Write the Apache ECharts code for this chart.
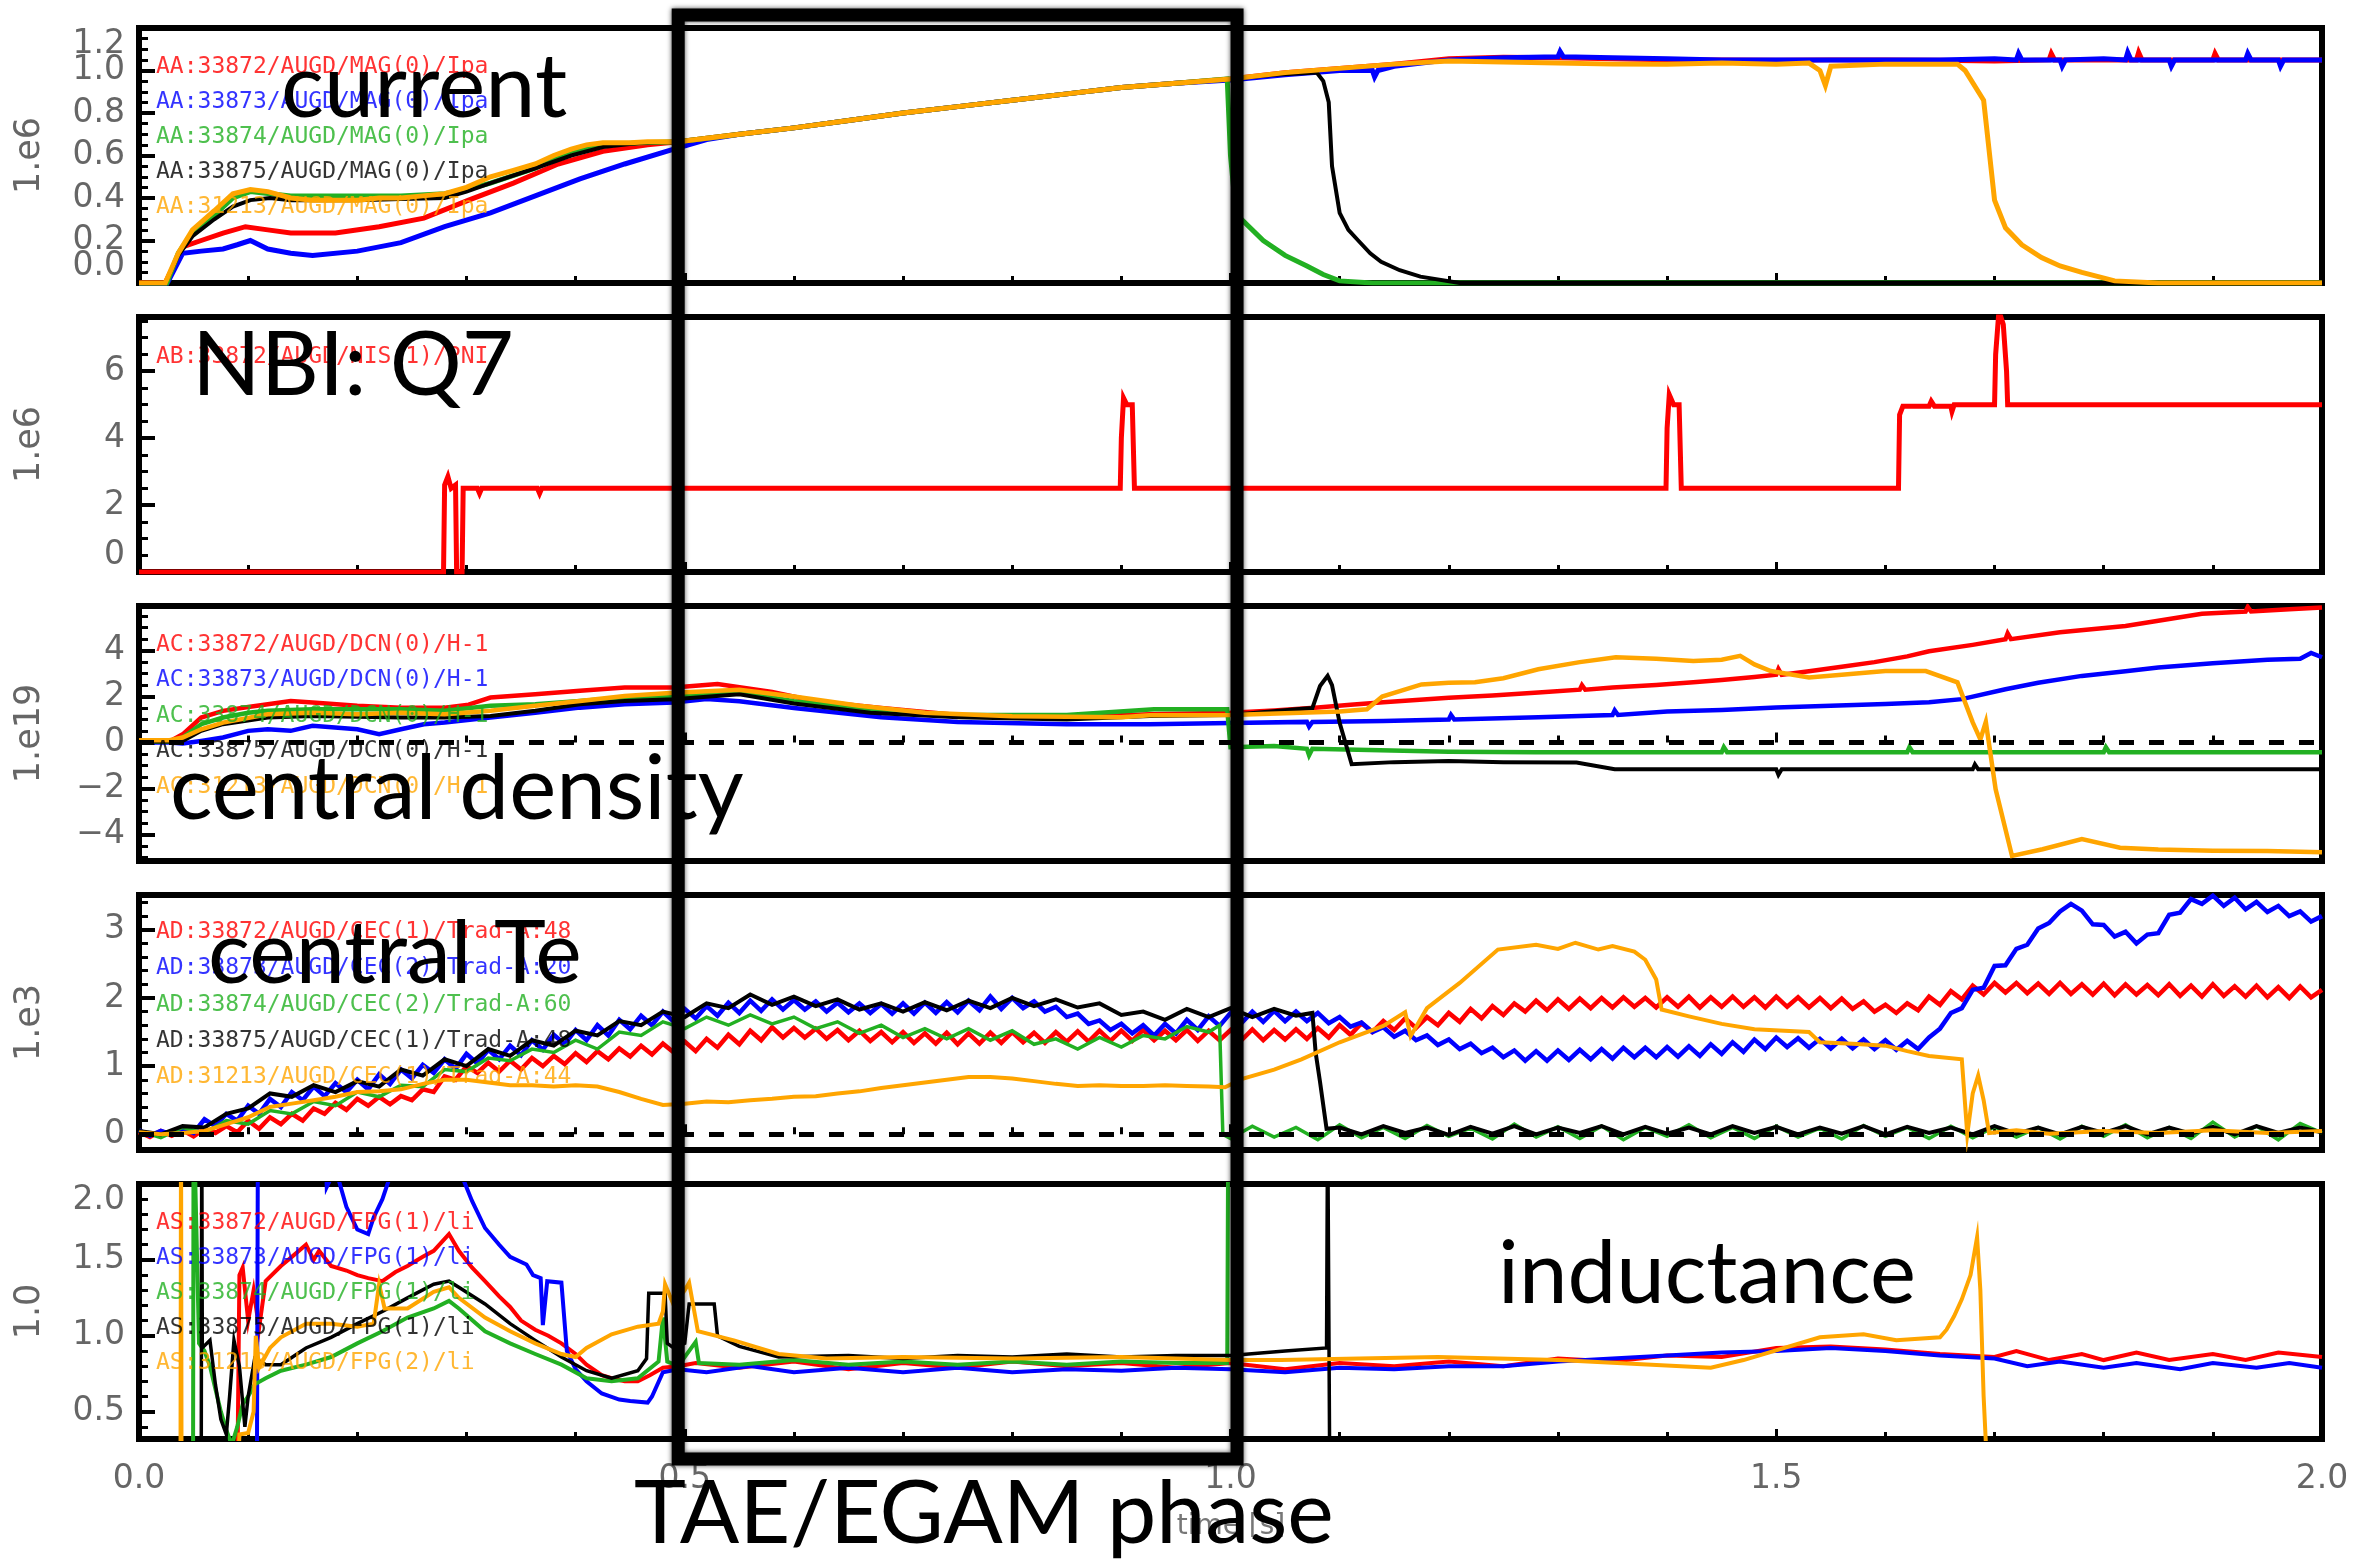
<!DOCTYPE html>
<html>
<head>
<meta charset="utf-8">
<script src="https://cdn.jsdelivr.net/npm/echarts@6/dist/echarts.min.js"></script>
<style>
  html, body { margin: 0; padding: 0; background: #fff; }
  #chart { width: 2368px; height: 1563px; }
</style>
</head>
<body>
<div id="chart"></div>
<script>
// ---------------------------------------------------------------------------
// Time traces for AUG discharges 33872-33875 and 31213, as [t, value] pairs.
// ---------------------------------------------------------------------------

// Plasma current Ipa [1e6 A]
const curRed = [0,0, 0.024,0, 0.04,0.17, 0.057,0.2, 0.077,0.235, 0.0975,0.265, 0.118,0.25, 0.139,0.235, 0.18,0.235, 0.22,0.265, 0.261,0.305, 0.302,0.39, 0.343,0.47, 0.384,0.56, 0.425,0.62, 0.466,0.65, 0.494,0.665, 0.55,0.7, 0.6,0.73, 0.65,0.765, 0.7,0.8, 0.75,0.83, 0.8,0.86, 0.85,0.89, 0.9,0.92, 0.95,0.94, 1.0,0.96, 1.05,0.99, 1.1,1.01, 1.15,1.03, 1.2,1.055, 1.25,1.062, 1.3,1.06, 1.35,1.055, 1.4,1.05, 1.45,1.05, 1.5,1.048, 1.55,1.05, 1.6,1.05, 1.65,1.048, 1.7,1.045, 1.75,1.05, 1.752,1.08, 1.755,1.05, 1.8,1.05, 1.83,1.05, 1.832,1.085, 1.835,1.05, 1.88,1.05, 1.9,1.05, 1.902,1.08, 1.905,1.05, 1.95,1.05, 2.0,1.05];
const curBlue = [0,-0.02, 0.024,-0.02, 0.04,0.14, 0.057,0.15, 0.077,0.16, 0.09,0.18, 0.102,0.2, 0.118,0.16, 0.139,0.14, 0.159,0.13, 0.2,0.15, 0.24,0.19, 0.28,0.265, 0.322,0.33, 0.363,0.41, 0.404,0.49, 0.445,0.56, 0.49,0.63, 0.52,0.675, 0.55,0.7, 0.6,0.73, 0.65,0.765, 0.7,0.8, 0.75,0.83, 0.8,0.86, 0.85,0.89, 0.9,0.92, 0.95,0.94, 1.0,0.955, 1.05,0.98, 1.1,1.0, 1.13,1.0, 1.132,0.97, 1.135,1.0, 1.15,1.02, 1.2,1.05, 1.25,1.06, 1.3,1.065, 1.302,1.09, 1.305,1.065, 1.35,1.06, 1.4,1.055, 1.45,1.05, 1.5,1.05, 1.6,1.05, 1.65,1.05, 1.7,1.055, 1.72,1.05, 1.722,1.08, 1.725,1.05, 1.76,1.05, 1.762,1.02, 1.765,1.05, 1.8,1.055, 1.82,1.05, 1.822,1.085, 1.825,1.05, 1.86,1.05, 1.862,1.02, 1.865,1.05, 1.9,1.05, 1.93,1.05, 1.932,1.08, 1.935,1.05, 1.96,1.05, 1.962,1.02, 1.965,1.05, 2.0,1.05];
const curGreen = [0,-0.02, 0.024,-0.02, 0.036,0.14, 0.049,0.24, 0.069,0.32, 0.086,0.4, 0.102,0.43, 0.12,0.42, 0.139,0.41, 0.2,0.41, 0.24,0.41, 0.28,0.42, 0.3,0.44, 0.322,0.47, 0.363,0.54, 0.396,0.62, 0.425,0.65, 0.46,0.66, 0.494,0.665, 0.55,0.7, 0.6,0.73, 0.65,0.765, 0.7,0.8, 0.75,0.83, 0.8,0.86, 0.85,0.89, 0.9,0.92, 0.95,0.94, 0.997,0.96, 1.0,0.6, 1.005,0.33, 1.01,0.3, 1.03,0.2, 1.05,0.13, 1.07,0.08, 1.085,0.04, 1.1,0.01, 1.13,0, 2.0,0];
const curBlack = [0,0, 0.024,0, 0.036,0.13, 0.049,0.22, 0.069,0.3, 0.086,0.36, 0.102,0.39, 0.12,0.4, 0.139,0.39, 0.2,0.39, 0.24,0.395, 0.28,0.4, 0.3,0.43, 0.322,0.47, 0.363,0.54, 0.396,0.6, 0.425,0.64, 0.46,0.66, 0.494,0.665, 0.55,0.7, 0.6,0.73, 0.65,0.765, 0.7,0.8, 0.75,0.83, 0.8,0.86, 0.85,0.89, 0.9,0.92, 0.95,0.94, 1.0,0.96, 1.04,0.98, 1.079,0.99, 1.085,0.95, 1.09,0.85, 1.093,0.55, 1.1,0.33, 1.108,0.25, 1.117,0.2, 1.128,0.14, 1.138,0.1, 1.155,0.06, 1.174,0.03, 1.21,0, 2.0,0];
const curOrange = [0,0, 0.024,0, 0.036,0.14, 0.049,0.25, 0.069,0.34, 0.086,0.42, 0.102,0.44, 0.118,0.43, 0.139,0.4, 0.159,0.39, 0.2,0.39, 0.22,0.4, 0.24,0.4, 0.26,0.41, 0.28,0.42, 0.3,0.45, 0.322,0.5, 0.343,0.53, 0.363,0.56, 0.38,0.6, 0.396,0.63, 0.41,0.65, 0.425,0.66, 0.45,0.66, 0.466,0.665, 0.494,0.665, 0.55,0.7, 0.6,0.73, 0.65,0.765, 0.7,0.8, 0.75,0.83, 0.8,0.86, 0.85,0.89, 0.9,0.92, 0.95,0.94, 1.0,0.96, 1.05,0.99, 1.1,1.01, 1.15,1.03, 1.2,1.045, 1.25,1.04, 1.3,1.035, 1.35,1.03, 1.4,1.03, 1.45,1.035, 1.5,1.03, 1.53,1.035, 1.54,1.0, 1.545,0.93, 1.55,1.02, 1.6,1.03, 1.65,1.03, 1.666,1.03, 1.673,1.0, 1.69,0.86, 1.7,0.39, 1.71,0.26, 1.725,0.18, 1.743,0.12, 1.76,0.08, 1.78,0.05, 1.81,0.01, 1.85,0, 2.0,0];

// NBI power, source Q7 [1e6 W]
const nbiRed = [0,0, 0.279,0, 0.28,2.6, 0.283,2.85, 0.286,2.5, 0.29,2.6, 0.291,0, 0.296,0, 0.297,2.5, 0.31,2.5, 0.312,2.35, 0.314,2.5, 0.365,2.5, 0.367,2.35, 0.369,2.5, 0.899,2.5, 0.9,4.0, 0.902,5.2, 0.905,5.0, 0.91,5.0, 0.912,2.5, 1.399,2.5, 1.4,4.3, 1.402,5.3, 1.406,5.0, 1.411,5.0, 1.413,2.5, 1.612,2.5, 1.613,4.7, 1.616,4.95, 1.64,4.95, 1.642,5.1, 1.645,4.95, 1.66,4.95, 1.661,4.8, 1.663,5.0, 1.7,5.0, 1.701,6.5, 1.704,7.8, 1.708,7.4, 1.711,6.0, 1.712,5.0, 2.0,5.0];

// Central line density H-1 [1e19 m^-2]
const densRed = [0,0.05, 0.028,0.05, 0.04,0.36, 0.057,1.09, 0.077,1.38, 0.1,1.55, 0.118,1.67, 0.139,1.81, 0.159,1.74, 0.2,1.6, 0.24,1.52, 0.28,1.52, 0.302,1.65, 0.322,1.96, 0.363,2.1, 0.404,2.25, 0.445,2.4, 0.49,2.4, 0.53,2.55, 0.58,2.2, 0.62,1.8, 0.68,1.5, 0.75,1.2, 0.85,1.1, 0.926,1.23, 1.0,1.3, 1.04,1.4, 1.08,1.53, 1.11,1.65, 1.14,1.75, 1.2,1.95, 1.24,2.05, 1.282,2.18, 1.32,2.3, 1.322,2.5, 1.325,2.3, 1.35,2.4, 1.39,2.5, 1.424,2.62, 1.45,2.72, 1.48,2.85, 1.5,2.95, 1.502,3.2, 1.505,2.95, 1.53,3.1, 1.56,3.3, 1.59,3.5, 1.62,3.75, 1.64,3.97, 1.68,4.25, 1.71,4.49, 1.712,4.75, 1.715,4.5, 1.76,4.8, 1.82,5.07, 1.85,5.3, 1.89,5.6, 1.93,5.7, 1.932,5.9, 1.935,5.7, 1.97,5.8, 2.0,5.88];
const densBlue = [0,0, 0.028,0, 0.04,-0.04, 0.057,0.07, 0.077,0.22, 0.1,0.51, 0.118,0.58, 0.139,0.51, 0.159,0.73, 0.2,0.58, 0.22,0.36, 0.24,0.58, 0.261,0.8, 0.28,0.87, 0.322,1.09, 0.363,1.3, 0.404,1.52, 0.445,1.67, 0.49,1.74, 0.52,1.9, 0.55,1.8, 0.6,1.5, 0.68,1.1, 0.75,0.9, 0.85,0.8, 0.926,0.8, 1.0,0.85, 1.07,0.9, 1.072,0.7, 1.075,0.9, 1.14,0.94, 1.2,1.0, 1.202,1.2, 1.205,1.0, 1.282,1.1, 1.35,1.2, 1.352,1.4, 1.355,1.2, 1.4,1.35, 1.45,1.42, 1.5,1.53, 1.55,1.6, 1.6,1.68, 1.64,1.75, 1.67,1.89, 1.71,2.32, 1.74,2.6, 1.78,2.9, 1.82,3.1, 1.85,3.27, 1.9,3.45, 1.95,3.6, 1.98,3.65, 1.99,3.9, 2.0,3.71];
const densGreen = [0,0.05, 0.028,0.05, 0.04,0.22, 0.057,0.8, 0.077,1.09, 0.1,1.3, 0.118,1.38, 0.159,1.45, 0.2,1.45, 0.24,1.45, 0.28,1.38, 0.322,1.6, 0.363,1.67, 0.404,1.81, 0.445,1.96, 0.49,2.03, 0.55,2.2, 0.6,1.8, 0.68,1.4, 0.75,1.2, 0.85,1.2, 0.93,1.45, 0.997,1.45, 1.0,-0.2, 1.04,-0.15, 1.07,-0.27, 1.072,-0.55, 1.075,-0.27, 1.2,-0.4, 1.28,-0.42, 1.45,-0.42, 1.452,-0.2, 1.455,-0.42, 1.62,-0.42, 1.622,-0.2, 1.625,-0.42, 1.8,-0.42, 1.802,-0.2, 1.805,-0.42, 2.0,-0.42];
const densBlack = [0,0.05, 0.028,0.05, 0.04,0.07, 0.057,0.51, 0.077,0.8, 0.118,1.09, 0.159,1.16, 0.24,1.09, 0.28,1.09, 0.322,1.16, 0.363,1.38, 0.404,1.67, 0.445,1.81, 0.49,1.88, 0.55,2.1, 0.6,1.7, 0.67,1.3, 0.75,1.1, 0.85,1.0, 0.926,1.16, 1.0,1.2, 1.06,1.45, 1.075,1.5, 1.082,2.46, 1.089,2.9, 1.093,2.5, 1.1,0.86, 1.111,-0.94, 1.15,-0.85, 1.2,-0.8, 1.25,-0.85, 1.317,-0.87, 1.352,-1.16, 1.5,-1.16, 1.502,-1.4, 1.505,-1.16, 1.68,-1.16, 1.682,-0.95, 1.685,-1.16, 2.0,-1.16];
const densOrange = [0,0.1, 0.028,0.1, 0.04,0.22, 0.057,0.58, 0.077,0.87, 0.118,1.23, 0.159,1.3, 0.2,1.23, 0.24,1.3, 0.28,1.23, 0.322,1.38, 0.363,1.6, 0.404,1.81, 0.445,2.03, 0.49,2.17, 0.55,2.3, 0.6,2.0, 0.66,1.6, 0.72,1.3, 0.8,1.15, 0.9,1.1, 0.926,1.19, 1.0,1.2, 1.1,1.35, 1.125,1.45, 1.139,2.0, 1.175,2.53, 1.2,2.6, 1.224,2.62, 1.25,2.8, 1.282,3.19, 1.32,3.5, 1.353,3.71, 1.39,3.65, 1.424,3.55, 1.45,3.6, 1.467,3.77, 1.48,3.4, 1.495,3.11, 1.53,2.83, 1.56,2.95, 1.6,3.11, 1.637,3.11, 1.666,2.62, 1.68,0.88, 1.687,0.14, 1.692,0.9, 1.701,-2.03, 1.716,-4.93, 1.744,-4.64, 1.78,-4.2, 1.815,-4.57, 1.85,-4.65, 1.9,-4.7, 1.95,-4.72, 2.0,-4.77];

// Central electron temperature from ECE Trad-A [1e3 eV]
const teRed = [0,0.03, 0.01,-0.04, 0.02,0.05, 0.03,-0.02, 0.04,0.06, 0.05,-0.03, 0.06,0.08, 0.07,0.02, 0.08,0.12, 0.09,0.03,
  0.1,0.2, 0.11,0.08, 0.12,0.25, 0.13,0.15, 0.14,0.3, 0.15,0.2, 0.16,0.38, 0.17,0.3, 0.18,0.46, 0.19,0.36,
  0.2,0.52, 0.21,0.42, 0.22,0.55, 0.23,0.44, 0.24,0.56, 0.25,0.5, 0.26,0.66, 0.27,0.62, 0.28,0.85, 0.29,0.8,
  0.3,1.0, 0.31,0.9, 0.32,1.05, 0.33,0.92, 0.34,1.08, 0.35,0.95, 0.36,1.12, 0.37,1.0, 0.38,1.15, 0.39,1.03,
  0.4,1.19, 0.41,1.06, 0.42,1.22, 0.43,1.1, 0.44,1.26, 0.45,1.14, 0.46,1.3, 0.47,1.17, 0.48,1.33, 0.49,1.2,
  0.5,1.36, 0.51,1.22, 0.52,1.4, 0.53,1.27, 0.54,1.46, 0.55,1.32, 0.56,1.52, 0.57,1.38, 0.58,1.57, 0.59,1.42,
  0.6,1.56, 0.61,1.42, 0.62,1.55, 0.63,1.4, 0.64,1.53, 0.65,1.38, 0.66,1.52, 0.67,1.37, 0.68,1.5, 0.69,1.35,
  0.7,1.5, 0.71,1.34, 0.72,1.48, 0.73,1.33, 0.74,1.49, 0.75,1.32, 0.76,1.48, 0.77,1.33, 0.78,1.49, 0.79,1.34,
  0.8,1.5, 0.81,1.35, 0.82,1.49, 0.83,1.34, 0.84,1.5, 0.85,1.36, 0.86,1.51, 0.87,1.36, 0.88,1.52, 0.89,1.37,
  0.9,1.52, 0.91,1.37, 0.92,1.53, 0.93,1.38, 0.94,1.52, 0.95,1.38, 0.96,1.53, 0.97,1.37, 0.98,1.52, 0.99,1.38,
  1.0,1.53, 1.01,1.38, 1.02,1.54, 1.03,1.38, 1.04,1.53, 1.05,1.39, 1.06,1.54, 1.07,1.4, 1.08,1.56, 1.09,1.42,
  1.1,1.6, 1.11,1.46, 1.12,1.63, 1.13,1.5, 1.14,1.66, 1.15,1.53, 1.16,1.7, 1.17,1.56, 1.18,1.72, 1.19,1.6,
  1.2,1.78, 1.21,1.65, 1.22,1.84, 1.23,1.7, 1.24,1.88, 1.25,1.75, 1.26,1.92, 1.27,1.8, 1.28,1.96, 1.29,1.82,
  1.3,1.98, 1.31,1.84, 1.32,1.99, 1.33,1.85, 1.34,2.0, 1.35,1.86, 1.36,2.01, 1.37,1.87, 1.38,2.0, 1.39,1.86,
  1.4,2.01, 1.41,1.87, 1.42,2.02, 1.43,1.86, 1.44,2.01, 1.45,1.87, 1.46,2.02, 1.47,1.87, 1.48,2.01, 1.49,1.86,
  1.5,2.02, 1.51,1.87, 1.52,2.01, 1.53,1.86, 1.54,2.0, 1.55,1.85, 1.56,1.99, 1.57,1.84, 1.58,1.95, 1.59,1.8,
  1.6,1.9, 1.61,1.78, 1.62,1.92, 1.63,1.82, 1.64,2.02, 1.65,1.9, 1.66,2.1, 1.67,1.98, 1.68,2.18, 1.69,2.05,
  1.7,2.22, 1.71,2.08, 1.72,2.22, 1.73,2.07, 1.74,2.21, 1.75,2.06, 1.76,2.22, 1.77,2.06, 1.78,2.2, 1.79,2.05,
  1.8,2.21, 1.81,2.04, 1.82,2.2, 1.83,2.05, 1.84,2.19, 1.85,2.04, 1.86,2.2, 1.87,2.03, 1.88,2.18, 1.89,2.02,
  1.9,2.2, 1.91,2.03, 1.92,2.17, 1.93,2.02, 1.94,2.18, 1.95,2.01, 1.96,2.16, 1.97,2.0, 1.98,2.17, 1.99,2.01, 2.0,2.12];
const teBlue = [0,0.06, 0.01,-0.02, 0.02,0.05, 0.03,0.0, 0.04,0.08, 0.05,0.02, 0.06,0.22, 0.07,0.12, 0.08,0.3, 0.09,0.2,
  0.1,0.42, 0.11,0.3, 0.12,0.52, 0.13,0.4, 0.14,0.62, 0.15,0.5, 0.16,0.7, 0.17,0.56, 0.18,0.75, 0.19,0.62,
  0.2,0.8, 0.21,0.66, 0.22,0.88, 0.23,0.74, 0.24,0.95, 0.25,0.82, 0.26,1.02, 0.27,0.9, 0.28,1.1, 0.29,0.96,
  0.3,1.18, 0.31,1.04, 0.32,1.24, 0.33,1.1, 0.34,1.3, 0.35,1.16, 0.36,1.38, 0.37,1.24, 0.38,1.46, 0.39,1.32,
  0.4,1.53, 0.41,1.38, 0.42,1.6, 0.43,1.45, 0.44,1.68, 0.45,1.54, 0.46,1.74, 0.47,1.6, 0.48,1.8, 0.49,1.65,
  0.5,1.84, 0.51,1.7, 0.52,1.88, 0.53,1.74, 0.54,1.93, 0.55,1.78, 0.56,1.96, 0.57,1.81, 0.58,1.98, 0.59,1.83,
  0.6,1.97, 0.61,1.83, 0.62,1.95, 0.63,1.8, 0.64,1.93, 0.65,1.79, 0.66,1.92, 0.67,1.78, 0.68,1.91, 0.69,1.77,
  0.7,1.92, 0.71,1.77, 0.72,1.93, 0.73,1.78, 0.74,1.94, 0.75,1.79, 0.76,1.96, 0.77,1.82, 0.78,2.02, 0.79,1.84,
  0.8,2.0, 0.81,1.85, 0.82,1.95, 0.83,1.8, 0.84,1.87, 0.85,1.72, 0.86,1.77, 0.87,1.62, 0.88,1.67, 0.89,1.53,
  0.9,1.62, 0.91,1.48, 0.92,1.6, 0.93,1.45, 0.94,1.62, 0.95,1.48, 0.96,1.68, 0.97,1.53, 0.98,1.73, 0.99,1.59,
  1.0,1.78, 1.01,1.63, 1.02,1.8, 1.03,1.65, 1.04,1.81, 1.05,1.66, 1.06,1.8, 1.07,1.66, 1.08,1.78, 1.09,1.63,
  1.1,1.72, 1.11,1.58, 1.12,1.64, 1.13,1.5, 1.14,1.57, 1.15,1.43, 1.16,1.52, 1.17,1.38, 1.18,1.45, 1.19,1.31,
  1.2,1.39, 1.21,1.25, 1.22,1.33, 1.23,1.19, 1.24,1.27, 1.25,1.13, 1.26,1.23, 1.27,1.08, 1.28,1.22, 1.29,1.08,
  1.3,1.23, 1.31,1.09, 1.32,1.24, 1.33,1.1, 1.34,1.25, 1.35,1.11, 1.36,1.27, 1.37,1.13, 1.38,1.27, 1.39,1.13,
  1.4,1.28, 1.41,1.14, 1.42,1.29, 1.43,1.15, 1.44,1.32, 1.45,1.18, 1.46,1.35, 1.47,1.21, 1.48,1.39, 1.49,1.25,
  1.5,1.42, 1.51,1.28, 1.52,1.41, 1.53,1.27, 1.54,1.4, 1.55,1.26, 1.56,1.4, 1.57,1.26, 1.58,1.39, 1.59,1.25,
  1.6,1.38, 1.61,1.24, 1.62,1.37, 1.63,1.25, 1.64,1.42, 1.65,1.55, 1.66,1.78, 1.67,1.85, 1.68,2.12, 1.69,2.15,
  1.7,2.47, 1.71,2.48, 1.72,2.72, 1.73,2.78, 1.74,3.02, 1.75,3.1, 1.76,3.27, 1.77,3.38, 1.78,3.28, 1.79,3.08,
  1.8,3.07, 1.81,2.9, 1.82,2.97, 1.83,2.8, 1.84,2.93, 1.85,2.95, 1.86,3.22, 1.87,3.25, 1.88,3.45, 1.89,3.38,
  1.9,3.5, 1.91,3.35, 1.92,3.47, 1.93,3.3, 1.94,3.41, 1.95,3.26, 1.96,3.35, 1.97,3.2, 1.98,3.27, 1.99,3.12, 2.0,3.2];
const teGreen = [0,0.05, 0.02,-0.05, 0.04,0.1, 0.06,0.02, 0.08,0.2, 0.1,0.15, 0.12,0.35, 0.14,0.3, 0.16,0.48, 0.18,0.42, 0.2,0.62, 0.22,0.55, 0.24,0.72, 0.26,0.7, 0.28,0.95, 0.3,0.92, 0.32,1.12, 0.34,1.08, 0.36,1.25, 0.38,1.2, 0.4,1.38, 0.42,1.25, 0.44,1.5, 0.46,1.45, 0.48,1.65, 0.5,1.55, 0.52,1.72, 0.54,1.6, 0.56,1.75, 0.58,1.62, 0.6,1.72, 0.62,1.55, 0.64,1.65, 0.66,1.48, 0.68,1.6, 0.7,1.42, 0.72,1.55, 0.74,1.4, 0.76,1.55, 0.78,1.38, 0.8,1.52, 0.82,1.32, 0.84,1.4, 0.86,1.25, 0.88,1.42, 0.9,1.28, 0.92,1.45, 0.94,1.4, 0.96,1.58, 0.98,1.5, 0.99,1.6, 0.993,0.0,
  1.0,-0.06, 1.02,0.12, 1.04,-0.04, 1.06,0.1, 1.08,-0.08, 1.1,0.14, 1.12,-0.05, 1.14,0.1, 1.16,-0.06, 1.18,0.13, 1.2,-0.03, 1.22,0.09, 1.24,-0.07, 1.26,0.15, 1.28,-0.04, 1.3,0.11, 1.32,-0.06, 1.34,0.12, 1.36,-0.08, 1.38,0.1, 1.4,-0.03, 1.42,0.14, 1.44,-0.05, 1.46,0.1, 1.48,-0.06, 1.5,0.12, 1.52,-0.04, 1.54,0.09, 1.56,-0.07, 1.58,0.13, 1.6,-0.03, 1.62,0.1, 1.64,-0.06, 1.66,0.12, 1.68,-0.05, 1.7,0.11, 1.72,-0.04, 1.74,0.1, 1.76,-0.07, 1.78,0.12, 1.8,-0.03, 1.82,0.14, 1.84,-0.05, 1.86,0.1, 1.88,-0.06, 1.9,0.18, 1.92,-0.04, 1.94,0.12, 1.96,-0.08, 1.98,0.16, 2.0,0.02];
const teBlack = [0,0.05, 0.02,0.0, 0.04,0.12, 0.06,0.1, 0.08,0.3, 0.1,0.38, 0.12,0.6, 0.14,0.55, 0.16,0.72, 0.18,0.62, 0.2,0.78, 0.22,0.7, 0.24,0.95, 0.26,0.86, 0.28,1.1, 0.3,1.0, 0.32,1.25, 0.34,1.15, 0.36,1.38, 0.38,1.3, 0.4,1.52, 0.42,1.45, 0.44,1.66, 0.46,1.6, 0.48,1.8, 0.5,1.72, 0.52,1.92, 0.54,1.85, 0.56,2.05, 0.58,1.9, 0.6,2.02, 0.62,1.88, 0.64,1.98, 0.66,1.83, 0.68,1.92, 0.7,1.8, 0.72,1.94, 0.74,1.82, 0.76,1.96, 0.78,1.85, 0.8,2.0, 0.82,1.88, 0.84,1.98, 0.86,1.86, 0.88,1.92, 0.9,1.75, 0.92,1.8, 0.94,1.68, 0.96,1.84, 0.98,1.72, 1.0,1.85, 1.02,1.72, 1.04,1.84, 1.06,1.74, 1.075,1.78, 1.078,1.2, 1.082,0.77, 1.088,0.08,
  1.1,0.1, 1.12,0.0, 1.14,0.12, 1.16,0.02, 1.18,0.1, 1.2,-0.01, 1.22,0.11, 1.24,0.01, 1.26,0.12, 1.28,0.0, 1.3,0.1, 1.32,0.02, 1.34,0.12, 1.36,0.0, 1.38,0.11, 1.4,0.01, 1.42,0.1, 1.44,0.0, 1.46,0.12, 1.48,0.02, 1.5,0.11, 1.52,0.0, 1.54,0.1, 1.56,0.01, 1.58,0.12, 1.6,0.0, 1.62,0.11, 1.64,0.02, 1.66,0.1, 1.68,0.0, 1.7,0.12, 1.72,0.01, 1.74,0.1, 1.76,0.0, 1.78,0.11, 1.8,0.02, 1.82,0.12, 1.84,0.0, 1.86,0.1, 1.88,0.01, 1.9,0.11, 1.92,0.0, 1.94,0.12, 1.96,0.02, 1.98,0.1, 2.0,0.03];
const teOrange = [0,0.03, 0.02,0.0, 0.04,0.02, 0.06,0.05, 0.08,0.15, 0.1,0.25, 0.12,0.4, 0.14,0.45, 0.16,0.5, 0.18,0.55, 0.2,0.62, 0.22,0.63, 0.24,0.66, 0.26,0.74, 0.28,0.8, 0.3,0.8, 0.32,0.76, 0.34,0.72, 0.36,0.72, 0.38,0.7, 0.4,0.72, 0.42,0.7, 0.44,0.62, 0.46,0.52, 0.48,0.43, 0.5,0.45, 0.52,0.48, 0.54,0.47, 0.56,0.5, 0.58,0.52, 0.6,0.55, 0.62,0.56, 0.64,0.6, 0.66,0.63, 0.68,0.68, 0.7,0.72, 0.72,0.76, 0.74,0.8, 0.76,0.84, 0.78,0.84, 0.8,0.82, 0.82,0.78, 0.84,0.74, 0.86,0.71, 0.88,0.72, 0.9,0.71, 0.92,0.71, 0.94,0.72, 0.96,0.71, 0.98,0.7, 0.995,0.69, 1.01,0.81, 1.04,0.95, 1.065,1.1, 1.1,1.35, 1.14,1.59, 1.16,1.79, 1.165,1.44, 1.18,1.85, 1.21,2.22, 1.245,2.71, 1.28,2.78, 1.3,2.72, 1.316,2.81, 1.337,2.71, 1.35,2.76, 1.37,2.68, 1.38,2.56, 1.39,2.27, 1.395,1.83, 1.42,1.73, 1.45,1.62, 1.48,1.54, 1.53,1.5, 1.54,1.35, 1.57,1.33, 1.6,1.3, 1.62,1.22, 1.64,1.15, 1.67,1.1, 1.675,0.0, 1.68,0.6, 1.685,0.86, 1.69,0.5, 1.695,0.02, 1.72,0.06, 1.75,0.01, 1.8,0.05, 1.85,0.02, 1.9,0.06, 1.95,0.02, 2.0,0.05];

// Internal inductance li
const liRed = [0,0, 0.09,0, 0.092,1.4, 0.095,1.45, 0.1,1.1, 0.105,1.3, 0.11,1.05, 0.116,1.36, 0.13,1.46, 0.14,1.52, 0.153,1.6, 0.16,1.5, 0.165,1.56, 0.176,1.46, 0.19,1.43, 0.2,1.4, 0.21,1.38, 0.223,1.36, 0.235,1.42, 0.246,1.46, 0.26,1.52, 0.27,1.56, 0.284,1.67, 0.293,1.56, 0.305,1.45, 0.317,1.36, 0.33,1.26, 0.34,1.19, 0.35,1.1, 0.363,1.04, 0.375,1.0, 0.387,0.95, 0.4,0.88, 0.41,0.81, 0.424,0.74, 0.433,0.72, 0.445,0.7, 0.457,0.7, 0.468,0.74, 0.48,0.79, 0.494,0.8, 0.51,0.82, 0.55,0.79, 0.6,0.83, 0.65,0.78, 0.7,0.82, 0.75,0.79, 0.8,0.83, 0.85,0.8, 0.9,0.82, 0.95,0.79, 1.0,0.82, 1.05,0.78, 1.1,0.82, 1.15,0.8, 1.2,0.83, 1.25,0.8, 1.3,0.85, 1.35,0.83, 1.4,0.87, 1.45,0.86, 1.5,0.92, 1.55,0.93, 1.6,0.91, 1.65,0.88, 1.7,0.86, 1.72,0.9, 1.75,0.84, 1.78,0.88, 1.8,0.84, 1.83,0.89, 1.86,0.84, 1.9,0.88, 1.93,0.84, 1.96,0.89, 2.0,0.86];
const liBlue = [0,0, 0.108,0, 0.109,2.5, 0.17,2.5, 0.172,1.98, 0.18,2.1, 0.19,1.85, 0.2,1.7, 0.21,1.67, 0.215,1.78, 0.223,1.9, 0.23,2.05, 0.232,2.5, 0.295,2.5, 0.296,2.05, 0.305,1.89, 0.317,1.71, 0.33,1.6, 0.34,1.52, 0.355,1.47, 0.361,1.4, 0.368,1.38, 0.37,1.07, 0.374,1.36, 0.387,1.35, 0.392,0.9, 0.4,0.78, 0.41,0.7, 0.424,0.62, 0.44,0.58, 0.45,0.57, 0.466,0.56, 0.47,0.6, 0.48,0.76, 0.494,0.78, 0.52,0.76, 0.56,0.8, 0.6,0.76, 0.65,0.79, 0.7,0.76, 0.75,0.79, 0.8,0.76, 0.85,0.78, 0.9,0.77, 0.95,0.79, 1.0,0.78, 1.05,0.76, 1.1,0.79, 1.15,0.78, 1.2,0.8, 1.25,0.8, 1.3,0.83, 1.35,0.85, 1.4,0.87, 1.45,0.89, 1.5,0.9, 1.55,0.92, 1.6,0.9, 1.65,0.87, 1.7,0.85, 1.73,0.8, 1.76,0.83, 1.8,0.79, 1.83,0.82, 1.87,0.78, 1.9,0.82, 1.94,0.79, 1.97,0.82, 2.0,0.79];
const liGreen = [0,0, 0.0495,0, 0.05,2.5, 0.051,2.5, 0.055,0.95, 0.06,0.9, 0.065,0.8, 0.07,0.65, 0.075,0.5, 0.08,0.38, 0.085,0.28, 0.09,0.4, 0.095,0.55, 0.1,0.6, 0.106,0.68, 0.116,0.72, 0.13,0.77, 0.153,0.81, 0.176,0.86, 0.2,0.95, 0.223,1.03, 0.246,1.12, 0.27,1.18, 0.284,1.23, 0.293,1.18, 0.317,1.03, 0.34,0.95, 0.363,0.88, 0.387,0.81, 0.41,0.72, 0.433,0.7, 0.457,0.72, 0.476,0.83, 0.48,1.12, 0.484,0.83, 0.494,0.8, 0.51,0.96, 0.513,0.82, 0.55,0.81, 0.6,0.84, 0.65,0.81, 0.7,0.83, 0.75,0.81, 0.8,0.83, 0.85,0.81, 0.9,0.83, 0.95,0.82, 0.997,0.82, 0.998,2.5, 2.0,2.5];
const liBlack = [0,0, 0.057,0, 0.0575,2.5, 0.058,0.92, 0.065,0.97, 0.07,0.68, 0.075,0.45, 0.08,0.35, 0.083,0.6, 0.087,0.97, 0.092,0.8, 0.097,0.4, 0.1,0.6, 0.106,0.85, 0.116,0.81, 0.13,0.81, 0.153,0.92, 0.176,0.99, 0.2,1.08, 0.223,1.16, 0.246,1.25, 0.27,1.34, 0.284,1.36, 0.293,1.32, 0.317,1.21, 0.34,1.08, 0.363,0.97, 0.387,0.86, 0.41,0.77, 0.433,0.72, 0.457,0.77, 0.465,0.85, 0.467,1.28, 0.482,1.28, 0.484,0.95, 0.49,0.92, 0.5,0.95, 0.504,1.21, 0.527,1.21, 0.53,1.0, 0.55,0.93, 0.586,0.86, 0.65,0.87, 0.7,0.85, 0.75,0.87, 0.8,0.86, 0.85,0.88, 0.9,0.86, 0.95,0.87, 1.0,0.87, 1.05,0.9, 1.088,0.92, 1.089,2.5, 1.0905,2.5, 1.091,0, 2.0,0];
const liOrange = [0,0, 0.038,0, 0.0385,2.5, 0.039,0, 0.09,0, 0.092,0.35, 0.1,0.36, 0.105,0.5, 0.107,1.0, 0.11,0.79, 0.12,0.92, 0.13,0.99, 0.153,1.08, 0.176,1.08, 0.2,1.06, 0.215,1.08, 0.22,1.34, 0.225,1.18, 0.246,1.18, 0.27,1.29, 0.284,1.32, 0.293,1.25, 0.317,1.12, 0.34,1.03, 0.363,0.95, 0.387,0.88, 0.4,0.86, 0.41,0.92, 0.433,1.01, 0.457,1.06, 0.476,1.08, 0.48,1.16, 0.482,1.34, 0.49,1.2, 0.5,1.3, 0.504,1.35, 0.512,1.03, 0.545,0.97, 0.586,0.88, 0.63,0.85, 0.7,0.86, 0.8,0.85, 0.9,0.86, 1.0,0.84, 1.046,0.84, 1.19,0.86, 1.3,0.84, 1.44,0.79, 1.47,0.84, 1.54,0.99, 1.58,1.01, 1.61,0.97, 1.65,0.99, 1.656,1.04, 1.663,1.13, 1.67,1.24, 1.678,1.4, 1.684,1.65, 1.687,1.3, 1.69,0.6, 1.694,0, 2.0,0];

// Y-axis ranges, labelled ticks and minor ticks per panel
const yRange = [[0, 1.2], [0, 7.62], [-5.15, 5.94], [-0.23, 3.51], [0.32, 2.0]];
const yMajor = [[0, 0.2, 0.4, 0.6, 0.8, 1.0, 1.2], [0, 2, 4, 6], [-4, -2, 0, 2, 4], [0, 1, 2, 3], [0.5, 1.0, 1.5, 2.0]];
// labels sitting on the bottom / top edge of the frame (drawn inside the frame)
const yLowEdge = [[0], [0], [], [], []];
const yHighEdge = [[1.2], [], [], [], [2.0]];
const yMinor = [
  [0.05, 0.1, 0.15, 0.25, 0.3, 0.35, 0.45, 0.5, 0.55, 0.65, 0.7, 0.75, 0.85, 0.9, 0.95, 1.05, 1.1, 1.15],
  [0.5, 1, 1.5, 2.5, 3, 3.5, 4.5, 5, 5.5, 6.5, 7, 7.5],
  [-5, -4.5, -3.5, -3, -2.5, -1.5, -1, -0.5, 0.5, 1, 1.5, 2.5, 3, 3.5, 4.5, 5, 5.5],
  [-0.2, 0.2, 0.4, 0.6, 0.8, 1.2, 1.4, 1.6, 1.8, 2.2, 2.4, 2.6, 2.8, 3.2, 3.4],
  [0.4, 0.6, 0.7, 0.8, 0.9, 1.1, 1.2, 1.3, 1.4, 1.6, 1.7, 1.8, 1.9]
];
const yDigits = [1, 0, 0, 0, 1];
const yNames = ['1.e6', '1.e6', '1.e19', '1.e3', '1.0'];

// Legend strings per panel (order: red, blue, green, black, orange)
const legendCur = ['AA:33872/AUGD/MAG(0)/Ipa', 'AA:33873/AUGD/MAG(0)/Ipa', 'AA:33874/AUGD/MAG(0)/Ipa', 'AA:33875/AUGD/MAG(0)/Ipa', 'AA:31213/AUGD/MAG(0)/Ipa'];
const legendNbi = ['AB:33872/AUGD/NIS(1)/PNI'];
const legendDens = ['AC:33872/AUGD/DCN(0)/H-1', 'AC:33873/AUGD/DCN(0)/H-1', 'AC:33874/AUGD/DCN(0)/H-1', 'AC:33875/AUGD/DCN(0)/H-1', 'AC:31213/AUGD/DCN(0)/H-1'];
const legendTe = ['AD:33872/AUGD/CEC(1)/Trad-A:48', 'AD:33873/AUGD/CEC(2)/Trad-A:20', 'AD:33874/AUGD/CEC(2)/Trad-A:60', 'AD:33875/AUGD/CEC(1)/Trad-A:48', 'AD:31213/AUGD/CEC(1)/Trad-A:44'];
const legendLi = ['AS:33872/AUGD/FPG(1)/li', 'AS:33873/AUGD/FPG(1)/li', 'AS:33874/AUGD/FPG(1)/li', 'AS:33875/AUGD/FPG(1)/li', 'AS:31213/AUGD/FPG(2)/li'];

const titles = ['current', 'NBI: Q7', 'central density', 'central Te', 'inductance'];
const phaseLabel = 'TAE/EGAM phase';
const phaseWindow = [0.494, 1.006];   // s
const xTitle = 'time [s]';

// ---------------------------------------------------------------------------
const COLOR = { red: '#ff0000', blue: '#0000ff', green: '#22b022', black: '#000000', orange: '#ffa500' };
const ORDER = ['red', 'blue', 'green', 'black', 'orange'];
const PANEL_TOP = [28, 317, 606, 895, 1184];
const PANEL_H = 255;
const LEFT = 139, RIGHT = 46;
const TICK_FONT = '"DejaVu Sans"';
const TICK_SIZE = 33;
const AXES_PER_PANEL = 3;

const pairs = flat => {
  const out = [];
  for (let i = 0; i < flat.length; i += 2) out.push([flat[i], flat[i + 1]]);
  return out;
};

const panels = [
  { data: [curRed, curBlue, curGreen, curBlack, curOrange], width: [5, 5, 5, 4, 5], legend: legendCur, zero: false },
  { data: [nbiRed], width: [5], legend: legendNbi, zero: false },
  { data: [densRed, densBlue, densGreen, densBlack, densOrange], width: [4.5, 4.5, 4.5, 4, 4.5], legend: legendDens, zero: true },
  { data: [teRed, teBlue, teGreen, teBlack, teOrange], width: [4.5, 4.5, 3.5, 4, 4], legend: legendTe, zero: true },
  { data: [liRed, liBlue, liGreen, liBlack, liOrange], width: [4, 4, 4, 3.5, 4], legend: legendLi, zero: false }
];

const fmtY = i => v => (v < 0 ? '\u2212' : '') + Math.abs(v).toFixed(yDigits[i]);

const grid = PANEL_TOP.map(t => ({
  left: LEFT, right: RIGHT, top: t, height: PANEL_H,
  show: true, borderColor: '#000', borderWidth: 6, backgroundColor: 'transparent'
}));

const xAxis = PANEL_TOP.map((t, i) => ({
  type: 'value', gridIndex: i, min: 0, max: 2, interval: 0.5,
  axisLine: { show: false },
  splitLine: { show: false },
  axisTick: { show: true, inside: true, length: 10, lineStyle: { color: '#000', width: 3 } },
  minorTick: { show: true, splitNumber: 5, length: 7, lineStyle: { color: '#000', width: 3 } },
  minorSplitLine: { show: false },
  axisLabel: {
    show: i === 4, margin: 24, fontSize: TICK_SIZE, color: '#666', fontFamily: TICK_FONT,
    showMinLabel: true, showMaxLabel: true,
    formatter: v => v.toFixed(1)
  }
}));

const labelFor = (i, values, vAlign) => ({
  show: values.length > 0, customValues: values.length ? values : [yRange[i][0]],
  formatter: fmtY(i), margin: 14, fontSize: TICK_SIZE, color: '#666', fontFamily: TICK_FONT,
  showMinLabel: true, showMaxLabel: true, verticalAlign: vAlign
});

const yAxis = [];
PANEL_TOP.forEach((t, i) => {
  const [mn, mx] = yRange[i];
  const inner = yMajor[i].filter(v => yLowEdge[i].indexOf(v) < 0 && yHighEdge[i].indexOf(v) < 0);
  const base = { type: 'value', gridIndex: i, min: mn, max: mx, position: 'left', axisLine: { show: false }, splitLine: { show: false } };
  // major ticks with the interior labels
  yAxis.push(Object.assign({}, base, {
    axisTick: { show: true, inside: true, length: 16, customValues: yMajor[i], lineStyle: { color: '#000', width: 4 } },
    axisLabel: labelFor(i, inner, 'middle')
  }));
  // minor ticks with the label on the bottom edge
  yAxis.push(Object.assign({}, base, {
    axisTick: { show: true, inside: true, length: 9, customValues: yMinor[i], lineStyle: { color: '#000', width: 3 } },
    axisLabel: labelFor(i, yLowEdge[i], 'bottom')
  }));
  // label on the top edge
  yAxis.push(Object.assign({}, base, {
    axisTick: { show: false },
    axisLabel: labelFor(i, yHighEdge[i], 'top')
  }));
});

const series = [];
panels.forEach((p, i) => {
  p.data.forEach((d, k) => {
    const c = COLOR[ORDER[k]];
    const s = {
      type: 'line', xAxisIndex: i, yAxisIndex: i * AXES_PER_PANEL, data: pairs(d),
      showSymbol: false, symbol: 'none', clip: true, silent: true, animation: false,
      lineStyle: { color: c, width: p.width[k], join: 'miter' }, itemStyle: { color: c }, z: 3
    };
    if (k === 0 && p.zero) {
      s.markLine = {
        silent: true, symbol: 'none', animation: false, label: { show: false },
        lineStyle: { type: [15, 15], width: 5, color: '#000' },
        data: [{ yAxis: 0 }]
      };
    }
    series.push(s);
  });
});

const chart = echarts.init(document.getElementById('chart'), null, { renderer: 'canvas' });
chart.setOption({ animation: false, backgroundColor: '#fff', grid, xAxis, yAxis, series });

// ---------------------------------------------------------------------------
// Annotations: legends, axis names, panel titles and the highlighted phase box
// ---------------------------------------------------------------------------
const elements = [];
const legendTop = [67, 357, 645, 932, 1223];
const legendStep = [35, 35, 35.5, 36.3, 35];
panels.forEach((p, i) => {
  p.legend.forEach((txt, k) => {
    elements.push({
      type: 'text', x: 156, y: legendTop[i] + k * legendStep[i], z: 5, silent: true,
      style: { text: txt, fill: COLOR[ORDER[k]], font: '23px "DejaVu Sans Mono"', verticalAlign: 'middle', align: 'left', opacity: 0.8 }
    });
  });
  elements.push({
    type: 'text', x: 30, y: PANEL_TOP[i] + PANEL_H / 2, rotation: Math.PI / 2, z: 5, silent: true,
    style: { text: yNames[i], fill: '#666', font: '35px ' + TICK_FONT, align: 'center', verticalAlign: 'middle' }
  });
});

elements.push({
  type: 'text', x: 1231, y: 1527, z: 5, silent: true,
  style: { text: xTitle, fill: '#777', font: '28px ' + TICK_FONT, align: 'center', verticalAlign: 'middle' }
});

const titlePos = [[281, 115], [192, 393], [170, 817], [208, 982], [1498, 1302]];
const titleSize = [90, 90, 89, 88, 87];
titles.forEach((t, i) => {
  elements.push({
    type: 'text', x: titlePos[i][0], y: titlePos[i][1] - 27, z: 30, silent: true,
    style: { text: t, fill: '#000', font: titleSize[i] + 'px Lato', align: 'left', verticalAlign: 'middle' }
  });
});
elements.push({
  type: 'text', x: 634, y: 1542 - 27, z: 30, silent: true,
  style: { text: phaseLabel, fill: '#000', font: '88px Lato', align: 'left', verticalAlign: 'middle' }
});

const bx0 = chart.convertToPixel({ xAxisIndex: 0 }, phaseWindow[0]);
const bx1 = chart.convertToPixel({ xAxisIndex: 0 }, phaseWindow[1]);
elements.push({
  type: 'rect', z: 40, silent: true,
  shape: { x: bx0, y: 15, width: bx1 - bx0, height: 1444 },
  style: { fill: 'none', stroke: '#000', lineWidth: 13, shadowBlur: 5, shadowColor: 'rgba(0,0,0,0.7)' }
});
elements.push({
  type: 'rect', z: 41, silent: true,
  shape: { x: bx0 - 2, y: 13, width: bx1 - bx0 + 3, height: 1447 },
  style: { fill: 'none', stroke: 'rgba(0,0,0,0.6)', lineWidth: 6, lineDash: [9, 3] }
});

chart.setOption({ graphic: { elements } });
</script>
</body>
</html>
